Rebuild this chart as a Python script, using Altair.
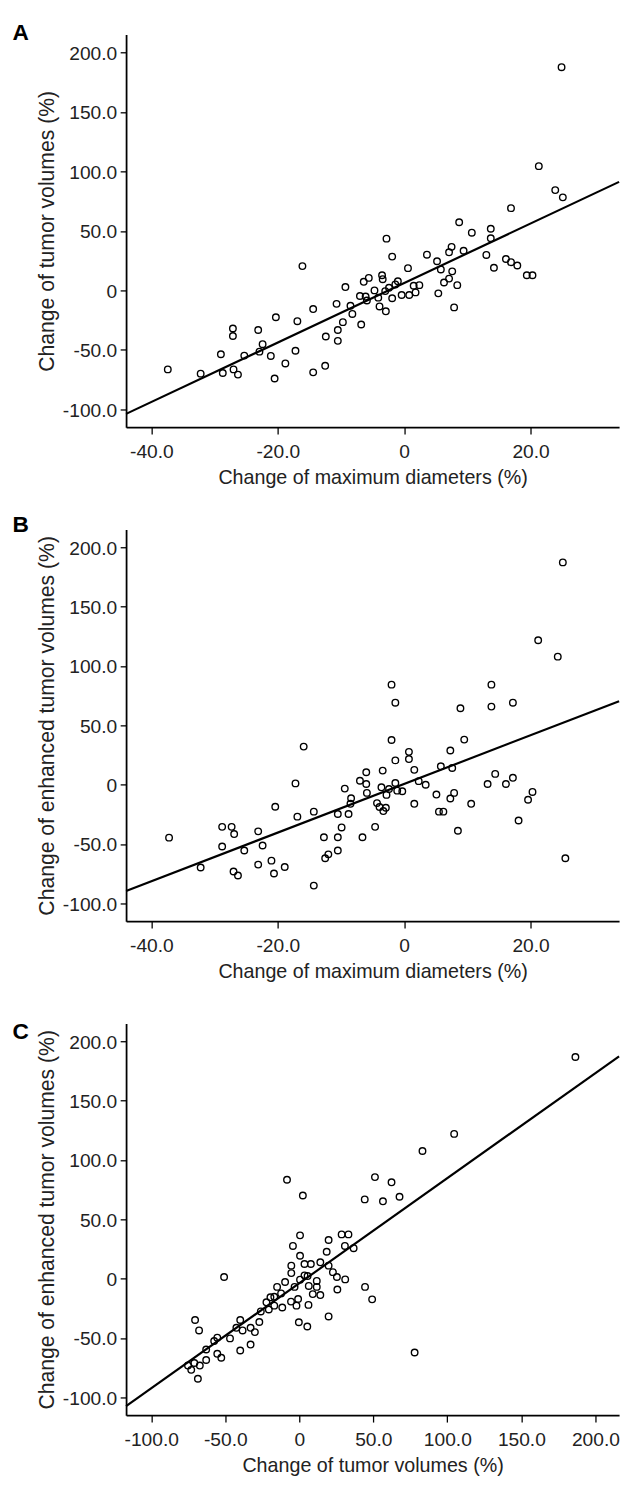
import altair as alt
import pandas as pd

# ---------------- Panel A: max diameter change vs tumor volume change ----------------
a_diam = [24.9, 21.3, 23.9, 25.1, 16.9,
          8.7, 10.7, 13.7, 13.7, -2.8, 7.5, 7.1, 9.4, 3.6, 13.0,
          -1.9, 5.2, 16.1, 16.9, 17.9, -16.1, 0.6, 5.8, 14.2, 7.6,
          19.4, 20.3, -3.5, -3.4, -5.6, -6.4, 7.1, 6.3, -1.0, -1.4,
          8.4, 1.5, 2.4, -9.3, -2.4, -4.7, -3.0, 1.8, -0.4, 0.8,
          5.4, -7.0, -6.1, -4.1, -1.9, -5.9, -8.5, -3.9, 7.9, -14.4,
          -10.7, -8.2, -2.9, -20.3, -16.9, -9.7, -6.8, -27.1, -27.1, -10.5,
          -23.1, -12.4, -10.5, -22.4, -17.2, -22.9, -29.0, -25.3, -21.1, -18.8,
          -12.5, -37.4, -27.0, -28.7, -32.2, -26.3, -14.4, -20.5]
a_vol = [187.6, 104.4, 84.3, 78.2, 69.1,
         57.3, 48.5, 51.8, 43.8, 43.5, 36.6, 32.0, 33.3, 30.0, 29.8,
         28.4, 24.5, 26.4, 23.7, 20.9, 20.4, 18.7, 17.6, 19.0, 16.0,
         12.7, 12.7, 12.7, 9.4, 10.5, 7.2, 9.9, 6.6, 7.7, 5.0,
         4.4, 3.9, 4.4, 2.8, 2.2, 0.0, -0.6, -1.7, -3.9, -3.9,
         -2.5, -4.7, -5.2, -6.1, -6.6, -8.5, -12.9, -13.5, -14.3, -15.7,
         -11.3, -19.8, -17.6, -22.6, -25.9, -26.7, -28.7, -32.0, -38.3, -33.3,
         -33.3, -38.8, -42.4, -45.2, -50.7, -51.5, -53.7, -54.8, -55.1, -61.4,
         -63.4, -66.4, -66.4, -69.4, -70.0, -70.8, -68.9, -74.1]
a_fit_x = [-44.0, 34.0]
a_fit_y = [-103.8, 91.2]

# ---------------- Panel B: max diameter change vs enhanced tumor volume change ----------------
b_diam = [25.1, 21.2, 24.3, -2.0, 13.8, -1.4, 8.9, 13.8, 17.2,
          -2.0, 9.5, -15.9, 0.75, 7.3, 0.75, -1.4, 5.8, 7.6, -6.0,
          -3.4, 1.6, 14.4, 17.2, -7.0, 2.3, -17.2, -6.0, -1.4, 3.4,
          13.2, 16.1, -3.6, -9.4, -2.4, -1.1, -0.3, -5.9, 7.9, 20.3,
          -2.8, 5.1, -8.4, 7.3, 19.6, -8.5, -4.3, 1.6, 10.6, -20.4,
          -3.9, -2.9, -3.3, 5.5, 6.2, -14.3, -10.5, -8.8, -16.9, 18.1,
          -28.8, -27.3, -9.9, -4.6, 8.5, -23.1, -26.9, -37.2, -12.7, -10.5,
          -6.6, -22.4, -28.8, -25.3, -10.5, -12.0, -12.5, 25.5, -21.0, -23.1,
          -18.9, -32.2, -27.0, -20.6, -26.3, -14.3]
b_enh = [187.3, 121.7, 107.9, 84.3, 84.3, 69.1, 64.4, 65.8, 69.1,
         37.7, 38.0, 32.1, 27.7, 28.8, 21.6, 20.5, 15.5, 14.1, 10.5,
         11.9, 12.5, 9.1, 5.8, 3.3, 3.0, 1.1, 0.6, 1.4, 0.0,
         0.6, 0.6, -2.2, -3.3, -3.6, -5.0, -5.5, -6.9, -6.9, -6.1,
         -8.6, -8.3, -11.4, -11.6, -12.7, -16.1, -15.5, -16.1, -16.1, -18.6,
         -18.8, -19.4, -22.2, -22.7, -22.7, -22.7, -24.7, -24.7, -26.9, -30.2,
         -35.5, -35.5, -36.0, -35.5, -38.8, -39.3, -41.6, -44.6, -44.3, -44.3,
         -44.3, -51.2, -52.1, -55.4, -55.4, -58.7, -62.0, -62.0, -64.0, -67.3,
         -69.3, -69.8, -73.1, -74.8, -76.5, -85.0]
b_fit_x = [-44.0, 34.0]
b_fit_y = [-89.6, 70.4]

# ---------------- Panel C: tumor volume change vs enhanced tumor volume change ----------------
c_vol = [186.5, 104.6, 83.2, -8.3, 51.1, 62.3, 2.4, 44.2, 56.5, 67.7,
         0.5, 28.6, 33.2, -4.3, 19.8, 30.8, 36.7, 0.5, 18.5, -5.4,
         3.5, 7.8, 14.2, 19.8, -5.4, 22.7, -50.8, 3.5, 5.6, 25.4,
         31.0, 0.5, -9.6, 11.8, -3.2, -15.0, 6.4, 11.8, 44.4, 25.7,
         -12.3, 9.1, 14.2, 49.2, -0.8, -16.9, -19.5, -22.2, -5.6, -16.9,
         -1.9, 6.2, -11.5, -20.6, -26.0, 19.8, -70.4, -39.9, -27.0, -0.3,
         5.4, -42.5, -67.7, -38.3, -32.9, -30.0, -55.4, -57.5, -46.8, -32.9,
         -62.9, -39.9, -55.4, -52.7, -62.9, 77.9, -75.2, -70.9, -67.2, -73.0,
         -68.5]
c_enh = [186.8, 122.0, 107.6, 83.4, 85.6, 81.2, 70.1, 66.8, 65.2, 69.0,
         36.5, 37.3, 37.3, 27.6, 32.6, 27.6, 25.7, 19.3, 22.7, 11.0,
         12.4, 12.4, 13.8, 11.0, 4.7, 5.5, 1.4, 2.8, 2.2, 1.4,
         -0.6, -0.8, -2.8, -1.9, -6.9, -6.9, -6.1, -6.9, -6.9, -9.1,
         -12.4, -13.0, -13.8, -17.4, -17.1, -15.2, -15.7, -19.9, -19.3, -22.7,
         -22.7, -22.1, -24.3, -26.0, -27.6, -31.8, -34.8, -34.8, -36.5, -36.7,
         -40.3, -41.4, -43.6, -43.6, -41.4, -45.0, -49.7, -52.5, -50.3, -55.5,
         -59.7, -60.5, -63.3, -66.6, -68.5, -62.2, -73.2, -71.0, -73.2, -76.8,
         -84.3]
c_fit_x = [-117.0, 216.0]
c_fit_y = [-107.4, 187.4]

y_ticks = [-100, -50, 0, 50, 100, 150, 200]
x_ticks_ab = [-40, -20, 0, 20]
x_ticks_c = [-100, -50, 0, 50, 100, 150, 200]

LABEL_EXPR = ("datum.value == 0 ? '0' : (datum.value < 0 ? '-' + format(-datum.value, '.1f') "
              ": format(datum.value, '.1f'))")

FONT = "Liberation Sans"
W = 501


def panel(xs, ys, fx, fy, letter, letter_y, xdom, xticks, xtitle, ytitle, h):
    pts = pd.DataFrame({"x": xs, "y": ys})
    fit = pd.DataFrame({"x": fx, "y": fy})
    lab = pd.DataFrame({"t": [letter]})
    X = alt.X("x:Q",
              scale=alt.Scale(domain=xdom, nice=False, zero=False),
              axis=alt.Axis(values=xticks, title=xtitle, labelExpr=LABEL_EXPR,
                            tickSize=7, labelPadding=9, grid=False,
                            titleY=51.5, titleBaseline="middle", titleFontSize=20))
    Y = alt.Y("y:Q",
              scale=alt.Scale(domain=[-115, 215], nice=False, zero=False),
              axis=alt.Axis(values=y_ticks, title=ytitle, labelExpr=LABEL_EXPR,
                            tickSize=6, labelPadding=3.5, grid=False, labelOffset=1,
                            titleX=-80, titleY=h / 2, titleAngle=270,
                            titleBaseline="middle", titleAlign="center",
                            titleFontSize=21.5))
    line = alt.Chart(fit).mark_line(color="black", strokeWidth=2.2).encode(x=X, y=Y)
    points = alt.Chart(pts).mark_point(shape="circle", filled=False, color="black",
                                       size=44, strokeWidth=1.4, opacity=1).encode(x=X, y=Y)
    text = alt.Chart(lab).mark_text(font=FONT, fontSize=23, fontWeight="bold",
                                    align="left", baseline="alphabetic",
                                    color="black").encode(
        x=alt.value(-115.3), y=alt.value(letter_y), text="t:N")
    return alt.layer(line, points, text).properties(width=W, height=h)


pa = panel(a_diam, a_vol, a_fit_x, a_fit_y, "A", 6, [-44, 34], x_ticks_ab,
           "Change of maximum diameters (%)", "Change of tumor volumes (%)", 399)
pb = panel(b_diam, b_enh, b_fit_x, b_fit_y, "B", 2.5, [-44, 34], x_ticks_ab,
           "Change of maximum diameters (%)", "Change of enhanced tumor volumes (%)", 398)
pc = panel(c_vol, c_enh, c_fit_x, c_fit_y, "C", 16, [-117, 216], x_ticks_c,
           "Change of tumor volumes (%)", "Change of enhanced tumor volumes (%)", 398)

chart = alt.vconcat(pa, pb, pc, spacing=104, bounds="flush").properties(
    padding={"left": 4, "top": 3, "right": 0, "bottom": 0},
    background="white",
).configure_view(stroke=None).configure_axis(
    domainColor="black", domainWidth=1.8, tickColor="black", tickWidth=1.3,
    labelFont=FONT, labelFontSize=19.5, labelColor="#222",
    titleFont=FONT, titleFontWeight="normal", titleColor="#222",
)

chart.save("out.html", embed_options={"renderer": "svg", "actions": False})
